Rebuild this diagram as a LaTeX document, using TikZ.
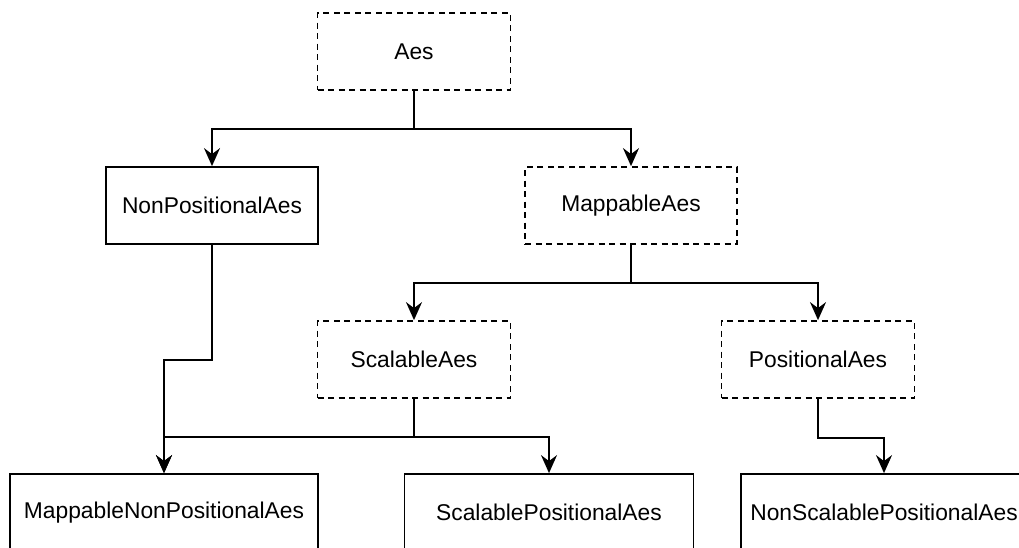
\documentclass[tikz,border=0pt]{standalone}
\usepackage{fontspec}
\setmainfont{Liberation Sans}
\usetikzlibrary{arrows.meta}
\begin{document}
\begin{tikzpicture}[x=1pt,y=-1pt,
  box/.style={draw=black, line width=1.8pt, fill=white, inner sep=0pt, minimum height=77pt,
    font=\fontsize{22.8}{27}\selectfont},
  abox/.style={box, dash pattern=on 6pt off 4.5pt},
  arr/.style={draw=black, line width=1.8pt, -{Stealth[length=18pt,width=16pt,inset=6pt]}},
  ]
\useasboundingbox (0,0) rectangle (1019,547);
\clip (0,0) rectangle (1019,547);
\node[abox, minimum width=193pt] (aes) at (414,51.5) {Aes};
\node[box, minimum width=212pt] (nonpos) at (212,205.5) {NonPositionalAes};
\node[abox, minimum width=212pt] (mappable) at (631,205.5) {MappableAes};
\node[abox, minimum width=193pt] (scalable) at (414,359.5) {ScalableAes};
\node[abox, minimum width=193pt] (positional) at (818,359.5) {PositionalAes};
\node[box, minimum width=308pt] (mnp) at (164,512.5) {MappableNonPositionalAes};
\node[box, minimum width=289pt] (sp) at (549,512.5) {ScalablePositionalAes};
\node[box, minimum width=286pt] (nsp) at (884,512.5) {NonScalablePositionalAes};

\draw[arr] (aes.south) -- ++(0,38) -| (nonpos.north);
\draw[arr] (aes.south) -- ++(0,38) -| (mappable.north);
\draw[arr] (nonpos.south) -- ++(0,115) -| (mnp.north);
\draw[arr] (mappable.south) -- ++(0,38) -| (scalable.north);
\draw[arr] (mappable.south) -- ++(0,38) -| (positional.north);
\draw[arr] (scalable.south) -- ++(0,38) -| (mnp.north);
\draw[arr] (scalable.south) -- ++(0,38) -| (sp.north);
\draw[arr] (positional.south) -- ++(0,39) -| (nsp.north);
\end{tikzpicture}
\end{document}
